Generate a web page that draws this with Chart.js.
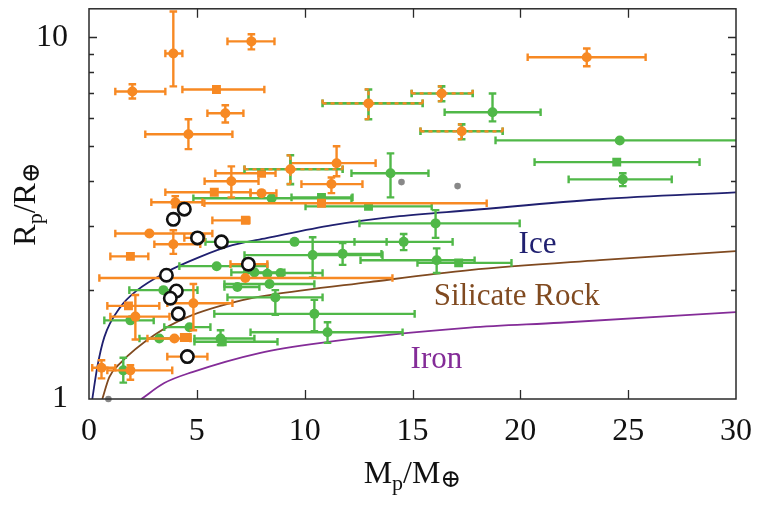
<!DOCTYPE html>
<html><head><meta charset="utf-8">
<script src="https://cdn.jsdelivr.net/npm/chart.js@4/dist/chart.umd.min.js"></script>
<style>html,body{margin:0;padding:0;background:#fff;overflow:hidden}canvas{display:block}</style>
</head><body>
<canvas id="c" width="759" height="507"></canvas>
<script>
// ---------- data ----------
const xTickValues = [0, 5, 10, 15, 20, 25, 30];
const yTickValues = [1, 2, 3, 4, 5, 6, 7, 8, 9, 10];
const yTickLabels = {1: '1', 10: '10'};

// rows: [M, R, M_low, M_high, R_low, R_high]
const orangeCircles = [
  [3.91, 9.03, 3.54, 4.33, 7.32, 11.8],
  [7.53, 9.75, 6.42, 8.60, 9.27, 10.2],
  [2.01, 7.09, 1.22, 3.54, 6.78, 7.42],
  [6.32, 6.17, 5.49, 7.16, 5.82, 6.49],
  [4.61, 5.40, 2.61, 6.65, 4.91, 5.94],
  [23.08, 8.81, 20.34, 25.81, 8.32, 9.32],
  [11.48, 4.49, 9.34, 13.29, 4.13, 5.00],
  [11.24, 3.93, 9.85, 12.68, 3.71, 4.10],
  [6.60, 4.00, 5.36, 7.86, 3.61, 4.40],
  [8.00, 3.71, 7.49, 8.69, null, null],
  [4.00, 3.50, 2.89, 5.26, 3.39, 3.64],
  [2.80, 2.87, 1.22, 5.72, null, null],
  [3.91, 2.68, 3.03, 5.16, 2.52, 2.93],
  [5.03, 2.79, 4.42, 5.35, null, null],
  [7.39, 2.36, 6.56, 8.27, null, null],
  [7.25, 2.16, 0.48, 14.07, null, null],
  [4.84, 1.84, 3.63, 6.65, 1.55, 2.08],
  [2.15, 1.69, 0.99, 3.73, 1.46, 1.94],
  [3.96, 1.47, 2.71, 4.70, null, null],
  [4.56, 1.31, 3.63, 5.49, null, null],
  [0.58, 1.22, 0.15, 1.22, 1.14, 1.28],
  [1.92, 1.20, 0.85, 3.86, 1.13, 1.24]
];
const orangeSquares = [
  [5.91, 7.18, 4.33, 8.13, null, null],
  [8.00, 4.21, 5.86, 8.65, null, null],
  [5.81, 3.73, 3.54, 7.49, null, null],
  [10.78, 3.48, 5.35, 18.44, null, null],
  [7.25, 3.12, 5.72, 7.44, null, null],
  [1.92, 2.48, 0.99, 2.75, null, null],
  [1.83, 1.81, 0.85, 3.26, null, null],
  [4.42, 1.48, null, null, null, null],
  [4.56, 1.48, null, null, null, null]
];
const greenCircles = [
  [18.71, 6.21, 16.49, 20.94, 5.86, 7.00],
  [24.61, 5.19, 18.85, 30.2, null, null],
  [24.75, 4.05, 22.24, 27.02, 3.88, 4.21],
  [13.98, 4.21, 12.17, 15.74, 3.61, 4.78],
  [8.47, 3.59, 4.84, 12.17, null, null],
  [16.07, 3.06, 12.54, 19.97, 2.79, 3.33],
  [9.53, 2.72, 5.40, 13.80, null, null],
  [14.59, 2.72, 12.31, 16.86, 2.58, 2.86],
  [10.37, 2.50, 7.21, 13.61, 2.17, 2.80],
  [11.76, 2.52, 10.37, 13.56, 2.35, 2.70],
  [16.12, 2.42, 12.59, 17.88, 2.23, 2.61],
  [5.92, 2.33, 4.19, 8.27, null, null],
  [8.88, 2.23, 7.20, 10.83, null, null],
  [7.67, 2.24, 6.60, 9.06, null, null],
  [8.27, 2.22, null, null, null, null],
  [6.88, 2.04, 6.28, 7.90, null, null],
  [8.37, 2.08, 6.28, 10.45, null, null],
  [3.45, 2.00, 1.87, 5.03, null, null],
  [8.64, 1.91, 6.42, 10.83, 1.71, 2.00],
  [10.45, 1.72, 5.81, 15.10, 1.54, 1.88],
  [11.06, 1.53, 7.49, 14.54, 1.43, 1.63],
  [1.92, 1.65, 0.71, 3.00, null, null],
  [4.66, 1.58, 3.49, 5.63, null, null],
  [3.26, 1.47, 2.34, 3.96, null, null],
  [6.10, 1.47, 4.89, 7.67, 1.41, 1.55],
  [1.59, 1.20, null, null, 1.11, 1.30]
];
const greenSquares = [
  [24.47, 4.52, 20.66, 28.31, null, null],
  [10.78, 3.61, 9.39, 12.22, null, null],
  [12.96, 3.41, 10.04, 15.89, null, null],
  [17.14, 2.38, 15.23, 19.59, null, null],
  [6.18, 1.44, 4.89, 8.74, null, null]
];
const bothPoints = [
  [12.96, 6.57, 10.83, 15.47, 5.94, 7.18],
  [16.35, 7.00, 14.96, 17.79, 6.66, 7.32],
  [17.28, 5.50, 15.37, 19.18, 5.23, 5.75],
  [9.34, 4.32, 7.21, 11.76, 3.93, 4.72]
];
const grayPoints = [[14.49, 3.98], [17.09, 3.88], [0.90, 1.00]];
const openCircles = [
  [4.42, 3.35], [3.91, 3.14], [5.03, 2.79], [6.14, 2.72], [7.39, 2.36],
  [3.59, 2.20], [4.05, 1.99], [3.77, 1.90], [4.14, 1.72], [4.56, 1.31]
];
const iceCurve = [[0.153, 1.0], [0.385, 1.226], [0.71, 1.483], [1.452, 1.795], [2.241, 2.0], [3.494, 2.229],
  [5.118, 2.468], [6.65, 2.663], [8.23, 2.785], [11.29, 3.025], [14.40, 3.203], [17.65, 3.327], [23.68, 3.568], [29.99, 3.73]];
const rockCurve = [[0.617, 1.0], [0.942, 1.150], [1.452, 1.257], [3.03, 1.503], [4.56, 1.685], [7.11, 1.877],
  [8.37, 1.938], [13.0, 2.105], [17.65, 2.272], [23.68, 2.421], [29.99, 2.564]];
const ironCurve = [[2.427, 1.0], [3.49, 1.107], [4.79, 1.187], [7.90, 1.340], [10.68, 1.428], [17.65, 1.575],
  [21.83, 1.625], [29.99, 1.739]];
const curveLabels = [
  {text: 'Ice', x: 19.92, y: 2.53, color: 'rgb(32,32,112)'},
  {text: 'Silicate Rock', x: 15.98, y: 1.818, color: 'rgb(128,74,32)'},
  {text: 'Iron', x: 14.91, y: 1.218, color: 'rgb(132,44,152)'}
];

// ---------- styling ----------
const ORANGE = 'rgb(247,137,35)';
const GREEN = 'rgb(80,184,72)';
const SERIF = '"Liberation Serif","Times New Roman","DejaVu Serif",serif';
const SYMB = '"DejaVu Serif","DejaVu Sans",serif';

const withErr = arr => arr.map(r => ({x: r[0], y: r[1], xlo: r[2], xhi: r[3], ylo: r[4], yhi: r[5]}));
const xy = arr => arr.map(r => ({x: r[0], y: r[1]}));

const errorBars = {
  id: 'errorBars',
  beforeDatasetDraw(chart, args) {
    const ds = chart.data.datasets[args.index];
    if (!ds.errPasses) return;
    const xs = chart.scales.x, ys = chart.scales.y, ctx = chart.ctx, a = chart.chartArea;
    const cap = 3.8;
    ctx.save();
    ctx.beginPath();
    ctx.rect(a.left, a.top, a.right - a.left, a.bottom - a.top);
    ctx.clip();
    for (const p of ds.errPasses) {
      ctx.strokeStyle = p.color;
      ctx.lineWidth = p.width;
      ctx.setLineDash(p.dash || []);
      ctx.lineCap = 'butt';
      for (const d of ds.data) {
        const px = xs.getPixelForValue(d.x), py = ys.getPixelForValue(d.y);
        ctx.beginPath();
        if (d.xlo != null && d.xhi != null) {
          const l = xs.getPixelForValue(d.xlo), r = xs.getPixelForValue(d.xhi);
          ctx.moveTo(l, py); ctx.lineTo(r, py);
          ctx.moveTo(l, py - cap); ctx.lineTo(l, py + cap);
          ctx.moveTo(r, py - cap); ctx.lineTo(r, py + cap);
        }
        if (d.ylo != null && d.yhi != null) {
          const b = ys.getPixelForValue(d.ylo), t = ys.getPixelForValue(d.yhi);
          ctx.moveTo(px, b); ctx.lineTo(px, t);
          ctx.moveTo(px - cap, b); ctx.lineTo(px + cap, b);
          ctx.moveTo(px - cap, t); ctx.lineTo(px + cap, t);
        }
        ctx.stroke();
      }
    }
    ctx.restore();
  }
};

function drawRich(ctx, parts, cx, baseY) {
  let total = 0;
  for (const p of parts) { ctx.font = p.size + 'px ' + (p.fam || SERIF); p.w = ctx.measureText(p.t).width; total += p.w; }
  let x = cx - total / 2;
  ctx.textAlign = 'left';
  ctx.textBaseline = 'alphabetic';
  for (const p of parts) { ctx.font = p.size + 'px ' + (p.fam || SERIF); ctx.fillText(p.t, x, baseY + (p.dy || 0)); x += p.w; }
}

const frame = {
  id: 'frame',
  afterDraw(chart) {
    const ctx = chart.ctx, a = chart.chartArea, xs = chart.scales.x, ys = chart.scales.y;
    ctx.save();
    ctx.strokeStyle = '#2a2a2a';
    ctx.lineWidth = 1.5;
    ctx.setLineDash([]);
    ctx.strokeRect(a.left, a.top, a.right - a.left, a.bottom - a.top);
    ctx.lineWidth = 1.3;
    ctx.beginPath();
    for (const v of xTickValues) {
      if (v === xTickValues[0] || v === xTickValues[xTickValues.length - 1]) continue;
      const px = Math.round(xs.getPixelForValue(v)) + 0.5;
      ctx.moveTo(px, a.bottom); ctx.lineTo(px, a.bottom - 9);
      ctx.moveTo(px, a.top); ctx.lineTo(px, a.top + 9);
    }
    for (const v of yTickValues) {
      if (v === 1) continue;
      const py = Math.round(ys.getPixelForValue(v)) + 0.5;
      const len = (v === 10) ? 8 : 5;
      ctx.moveTo(a.left, py); ctx.lineTo(a.left + len, py);
      ctx.moveTo(a.right, py); ctx.lineTo(a.right - len, py);
    }
    ctx.stroke();

    // curve labels
    ctx.font = '31px ' + SERIF;
    ctx.textAlign = 'left';
    ctx.textBaseline = 'alphabetic';
    for (const l of curveLabels) {
      ctx.fillStyle = l.color;
      ctx.fillText(l.text, xs.getPixelForValue(l.x), ys.getPixelForValue(l.y));
    }

    // axis titles
    ctx.fillStyle = '#111';
    drawRich(ctx, [{t: 'M', size: 32}, {t: 'p', size: 22, dy: 7}, {t: '/M', size: 32}, {t: '\u2295', size: 25, dy: 4, fam: SYMB}],
      (a.left + a.right) / 2, 483);
    ctx.save();
    ctx.translate(35, (a.top + a.bottom) / 2);
    ctx.rotate(-Math.PI / 2);
    drawRich(ctx, [{t: 'R', size: 32}, {t: 'p', size: 22, dy: 7}, {t: '/R', size: 32}, {t: '\u2295', size: 25, dy: 4, fam: SYMB}], 0, 0);
    ctx.restore();
    ctx.restore();
  }
};

const errSolid = c => [{color: c, width: 2.4}];
const curveDs = (data, color) => ({
  type: 'line', data: xy(data), showLine: true, borderColor: color, borderWidth: 1.8,
  pointRadius: 0, fill: false, cubicInterpolationMode: 'monotone'
});

new Chart(document.getElementById('c').getContext('2d'), {
  type: 'scatter',
  data: {
    datasets: [
      {data: xy(openCircles), pointRadius: 6.2, pointBorderWidth: 2.6, pointBackgroundColor: '#fff', pointBorderColor: '#111'},
      {data: xy(grayPoints), pointRadius: 3.3, pointBorderWidth: 0, pointBackgroundColor: '#888', clip: false},
      {data: withErr(bothPoints), pointRadius: 5, pointBorderWidth: 0, pointBackgroundColor: ORANGE,
        errPasses: [{color: GREEN, width: 2.6}, {color: ORANGE, width: 2.2, dash: [4, 4]}]},
      {data: withErr(orangeCircles), pointRadius: 5, pointBorderWidth: 0, pointBackgroundColor: ORANGE, errPasses: errSolid(ORANGE)},
      {data: withErr(orangeSquares), pointStyle: 'rect', pointRadius: 6.3, pointBorderWidth: 0, pointBackgroundColor: ORANGE, errPasses: errSolid(ORANGE)},
      {data: withErr(greenCircles), pointRadius: 5, pointBorderWidth: 0, pointBackgroundColor: GREEN, errPasses: errSolid(GREEN)},
      {data: withErr(greenSquares), pointStyle: 'rect', pointRadius: 6.3, pointBorderWidth: 0, pointBackgroundColor: GREEN, errPasses: errSolid(GREEN)},
      curveDs(iceCurve, 'rgb(32,32,112)'),
      curveDs(rockCurve, 'rgb(128,74,32)'),
      curveDs(ironCurve, 'rgb(132,44,152)')
    ]
  },
  options: {
    responsive: false,
    animation: false,
    devicePixelRatio: 1,
    layout: {padding: {top: 8, right: 23, left: 0, bottom: 0}},
    plugins: {legend: {display: false}, tooltip: {enabled: false}},
    scales: {
      x: {
        type: 'linear', min: 0, max: 30,
        afterFit(s) { s.height = 108; s.paddingLeft = 0; s.paddingRight = 0; s.paddingTop = 0; s.paddingBottom = 0; },
        afterBuildTicks(s) { s.ticks = xTickValues.map(v => ({value: v})); },
        grid: {display: false, drawTicks: false}, border: {display: false},
        ticks: {font: {family: SERIF, size: 32}, color: '#111', padding: 13, maxRotation: 0, autoSkip: false}
      },
      y: {
        type: 'logarithmic', min: 1, max: 12,
        afterFit(s) { s.width = 89; s.paddingLeft = 0; s.paddingRight = 0; s.paddingTop = 0; s.paddingBottom = 0; },
        afterBuildTicks(s) { s.ticks = yTickValues.map(v => ({value: v})); },
        grid: {display: false, drawTicks: false}, border: {display: false},
        ticks: {font: {family: SERIF, size: 32}, color: '#111', padding: 21, autoSkip: false,
          callback: v => yTickLabels[v] || ''}
      }
    }
  },
  plugins: [errorBars, frame]
});
</script>
</body></html>
